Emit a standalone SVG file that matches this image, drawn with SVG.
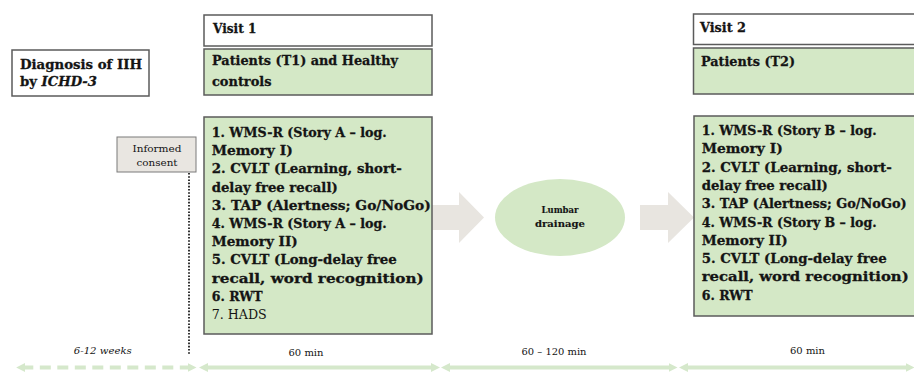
<svg xmlns="http://www.w3.org/2000/svg" width="914" height="372" viewBox="0 0 914 372">
  <style>
    .box { stroke: #5b5b5b; stroke-width: 1.5; }
    .white { fill: #ffffff; }
    .green { fill: #d4e8c6; }
    .t { font-family: "DejaVu Serif", "Liberation Serif", serif; fill: #141414; }
    .b { font-weight: bold; stroke: #141414; stroke-width: 0.3; }
    .h { font-size: 13.5px; }
    .l { font-size: 13.5px; }
    .s { font-size: 9.5px; }
    .s.b { stroke-width: 0.15; }
    .block { fill: #e8e5e0; }
    .tl { stroke: #d5e8cb; stroke-width: 4; fill: none; }
  </style>
  <defs>
    <marker id="head" viewBox="0 0 9 9" refX="0.5" refY="4.5" markerWidth="9" markerHeight="9" markerUnits="userSpaceOnUse" orient="auto-start-reverse">
      <path d="M0,0 L9,4.5 L0,9 z" fill="#d5e8cb"/>
    </marker>
  </defs>

  <!-- connectors: block arrows, consent marker line, timeline -->
  <g id="connectors">
    <path class="block" d="M432,205 L459,205 L459,192 L484,217.5 L459,243 L459,230 L432,230 z"/>
    <path class="block" d="M640,205 L668,205 L668,192 L694,217.5 L668,243 L668,230 L640,230 z"/>
    <line x1="189" y1="173" x2="189" y2="355" stroke="#333333" stroke-width="2" stroke-dasharray="1.6 1.6"/>
    <line class="tl" x1="24.7" y1="367.5" x2="188" y2="367.5" stroke-dasharray="11 6.5" stroke-dashoffset="2.4" marker-start="url(#head)" marker-end="url(#head)"/>
    <line class="tl" x1="207.5" y1="367.5" x2="431.5" y2="367.5" marker-start="url(#head)" marker-end="url(#head)"/>
    <line class="tl" x1="449.5" y1="367.5" x2="669" y2="367.5" marker-start="url(#head)" marker-end="url(#head)"/>
    <line class="tl" x1="687.5" y1="367.5" x2="906" y2="367.5" marker-start="url(#head)" marker-end="url(#head)"/>
  </g>

  <g id="timeline-labels">
    <text class="t s" x="102.8" y="354" text-anchor="middle" font-style="italic" textLength="58" lengthAdjust="spacingAndGlyphs">6-12 weeks</text>
    <text class="t s" x="306" y="355.5" text-anchor="middle" textLength="35" lengthAdjust="spacingAndGlyphs">60 min</text>
    <text class="t s" x="554" y="355" text-anchor="middle" textLength="65" lengthAdjust="spacingAndGlyphs">60 – 120 min</text>
    <text class="t s" x="807.5" y="354" text-anchor="middle" textLength="35" lengthAdjust="spacingAndGlyphs">60 min</text>
  </g>

  <g id="diagnosis">
    <rect class="box white" x="12" y="50" width="137" height="46"/>
    <text class="t b h" x="20" y="68.5" textLength="122" lengthAdjust="spacingAndGlyphs">Diagnosis of IIH</text>
    <text class="t b h" x="20" y="86" textLength="77" lengthAdjust="spacingAndGlyphs">by <tspan font-style="italic">ICHD-3</tspan></text>
  </g>

  <g id="consent">
    <rect x="117" y="137" width="79" height="35" fill="#e9e6e1" stroke="#7a7a7a" stroke-width="1"/>
    <text class="t s" x="157" y="151.5" text-anchor="middle" textLength="49" lengthAdjust="spacingAndGlyphs">Informed</text>
    <text class="t s" x="157" y="165.5" text-anchor="middle" textLength="41" lengthAdjust="spacingAndGlyphs">consent</text>
  </g>

  <g id="visit1-header">
    <rect class="box white" x="204" y="15" width="228" height="31"/>
    <text class="t b h" x="213" y="33.3" textLength="43.5" lengthAdjust="spacingAndGlyphs">Visit 1</text>
  </g>

  <g id="visit1-group">
    <rect class="box green" x="204" y="49" width="228" height="46"/>
    <text class="t b h" x="212" y="65" textLength="186" lengthAdjust="spacingAndGlyphs">Patients (T1) and Healthy</text>
    <text class="t b h" x="212" y="86" textLength="59.5" lengthAdjust="spacingAndGlyphs">controls</text>
  </g>

  <g id="visit1-tests">
    <rect class="box green" x="204" y="117" width="228" height="217"/>
    <text class="t b l" x="211.7" y="137" textLength="175" lengthAdjust="spacingAndGlyphs">1. WMS-R (Story A – log.</text>
    <text class="t b l" x="211.7" y="155.2" textLength="81" lengthAdjust="spacingAndGlyphs">Memory I)</text>
    <text class="t b l" x="211.7" y="173.4" textLength="190" lengthAdjust="spacingAndGlyphs">2. CVLT (Learning, short-</text>
    <text class="t b l" x="211.7" y="191.6" textLength="126" lengthAdjust="spacingAndGlyphs">delay free recall)</text>
    <text class="t b l" x="211.7" y="209.8" textLength="219" lengthAdjust="spacingAndGlyphs">3. TAP (Alertness; Go/NoGo)</text>
    <text class="t b l" x="211.7" y="228" textLength="175" lengthAdjust="spacingAndGlyphs">4. WMS-R (Story A – log.</text>
    <text class="t b l" x="211.7" y="246.2" textLength="86" lengthAdjust="spacingAndGlyphs">Memory II)</text>
    <text class="t b l" x="211.7" y="264.4" textLength="185" lengthAdjust="spacingAndGlyphs">5. CVLT (Long-delay free</text>
    <text class="t b l" x="211.7" y="282.6" textLength="212" lengthAdjust="spacingAndGlyphs">recall, word recognition)</text>
    <text class="t b l" x="211.7" y="300.8" textLength="51" lengthAdjust="spacingAndGlyphs">6. RWT</text>
    <text class="t l" x="211.7" y="319" textLength="55" lengthAdjust="spacingAndGlyphs">7. HADS</text>
  </g>

  <g id="drainage">
    <ellipse cx="560" cy="217.5" rx="65" ry="38.5" fill="#d4e8c6"/>
    <text class="t b s" x="560" y="213" text-anchor="middle" textLength="37" lengthAdjust="spacingAndGlyphs">Lumbar</text>
    <text class="t b s" x="560" y="226.5" text-anchor="middle" textLength="50" lengthAdjust="spacingAndGlyphs">drainage</text>
  </g>

  <g id="visit2-header">
    <rect class="box white" x="693.5" y="14" width="240" height="30.5"/>
    <text class="t b h" x="700" y="32.3" textLength="46" lengthAdjust="spacingAndGlyphs">Visit 2</text>
  </g>

  <g id="visit2-group">
    <rect class="box green" x="693.5" y="48" width="240" height="46"/>
    <text class="t b h" x="701" y="66" textLength="94" lengthAdjust="spacingAndGlyphs">Patients (T2)</text>
  </g>

  <g id="visit2-tests">
    <rect class="box green" x="694" y="116" width="240" height="200"/>
    <text class="t b l" x="701.7" y="135" textLength="175" lengthAdjust="spacingAndGlyphs">1. WMS-R (Story B – log.</text>
    <text class="t b l" x="701.7" y="153.3" textLength="81" lengthAdjust="spacingAndGlyphs">Memory I)</text>
    <text class="t b l" x="701.7" y="171.6" textLength="190" lengthAdjust="spacingAndGlyphs">2. CVLT (Learning, short-</text>
    <text class="t b l" x="701.7" y="189.9" textLength="126" lengthAdjust="spacingAndGlyphs">delay free recall)</text>
    <text class="t b l" x="701.7" y="208.2" textLength="205" lengthAdjust="spacingAndGlyphs">3. TAP (Alertness; Go/NoGo)</text>
    <text class="t b l" x="701.7" y="226.5" textLength="175" lengthAdjust="spacingAndGlyphs">4. WMS-R (Story B – log.</text>
    <text class="t b l" x="701.7" y="244.8" textLength="86" lengthAdjust="spacingAndGlyphs">Memory II)</text>
    <text class="t b l" x="701.7" y="263.1" textLength="185" lengthAdjust="spacingAndGlyphs">5. CVLT (Long-delay free</text>
    <text class="t b l" x="701.7" y="281.4" textLength="207" lengthAdjust="spacingAndGlyphs">recall, word recognition)</text>
    <text class="t b l" x="701.7" y="299.7" textLength="51" lengthAdjust="spacingAndGlyphs">6. RWT</text>
  </g>
</svg>
